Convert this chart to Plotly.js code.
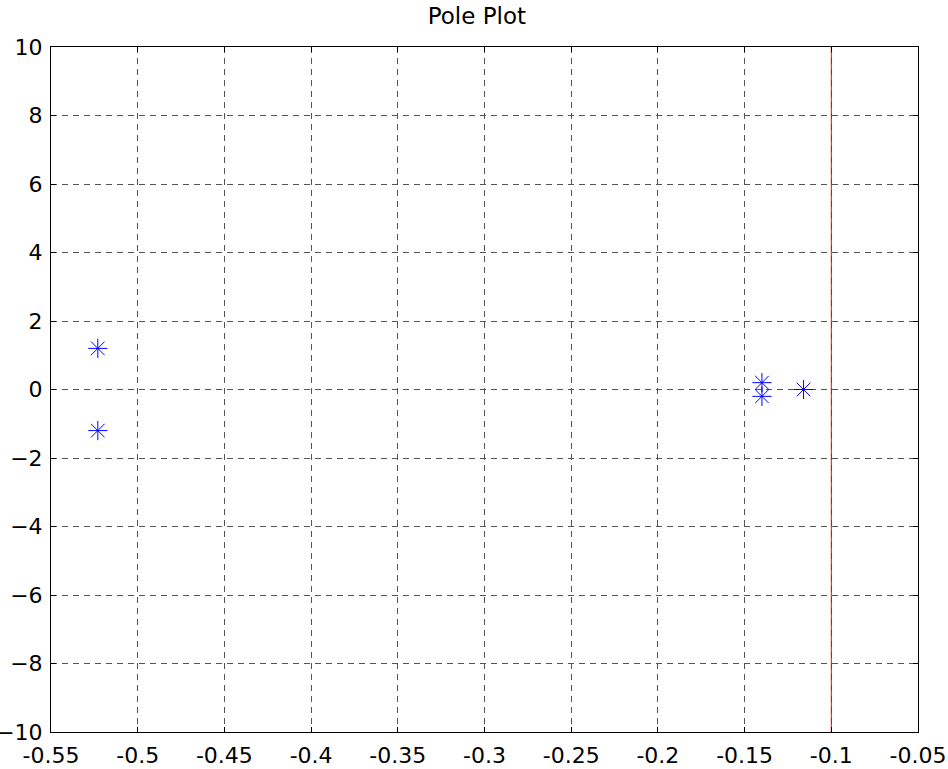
<!DOCTYPE html>
<html>
<head>
<meta charset="utf-8">
<script src="https://cdn.plot.ly/plotly-3.0.1.min.js"></script>
<style>html,body{margin:0;padding:0;background:#fff;}#plot{width:948px;height:769px;}</style>
</head>
<body>
<div id="plot"></div>
<script>
// Pole locations (real part, imaginary part)
const poleReal = [-0.523, -0.523, -0.140, -0.140, -0.116];
const poleImag = [1.2, -1.2, 0.2, -0.2, 0.0];

// Stability boundary marker line
const boundaryX = [-0.1, -0.1];
const boundaryY = [-10, 10];

const xTicks = [-0.55, -0.5, -0.45, -0.4, -0.35, -0.3, -0.25, -0.2, -0.15, -0.1, -0.05];
const xTickText = ['-0.55', '-0.5', '-0.45', '-0.4', '-0.35', '-0.3', '-0.25', '-0.2', '-0.15', '-0.1', '-0.05'];
const yTicks = [-10, -8, -6, -4, -2, 0, 2, 4, 6, 8, 10];

const font = {family: 'DejaVu Sans, Liberation Sans, Arial, sans-serif', size: 22, color: '#000'};

const traces = [
  {
    x: boundaryX, y: boundaryY, mode: 'lines', type: 'scatter',
    line: {color: '#ff0000', width: 1}, hoverinfo: 'skip'
  },
  {
    x: poleReal, y: poleImag, mode: 'markers', type: 'scatter',
    marker: {symbol: 'asterisk-open', size: 16, color: '#0000ff', line: {color: '#0000ff', width: 1}}
  }
];

const axisCommon = {
  showgrid: true, gridcolor: '#555', griddash: '6px,5px', gridwidth: 1,
  zeroline: false, showline: true, linecolor: '#000', linewidth: 1, mirror: 'ticks',
  ticks: 'inside', ticklen: 5, tickcolor: '#000', tickfont: font
};

const layout = {
  width: 948, height: 769,
  margin: {l: 51, r: 30, t: 47, b: 37},
  paper_bgcolor: '#fff', plot_bgcolor: '#fff',
  showlegend: false,
  title: {text: 'Pole Plot', font: {family: font.family, size: 23, color: '#000'}, x: 0.503, xanchor: 'center', y: 0.99, yanchor: 'top'},
  xaxis: Object.assign({}, axisCommon, {range: [-0.55, -0.05], tickvals: xTicks, ticktext: xTickText, ticklabelstandoff: 4}),
  yaxis: Object.assign({}, axisCommon, {range: [-10, 10], tickvals: yTicks, ticklabelstandoff: 3})
};

Plotly.newPlot('plot', traces, layout, {staticPlot: true, displayModeBar: false});
</script>
</body>
</html>
